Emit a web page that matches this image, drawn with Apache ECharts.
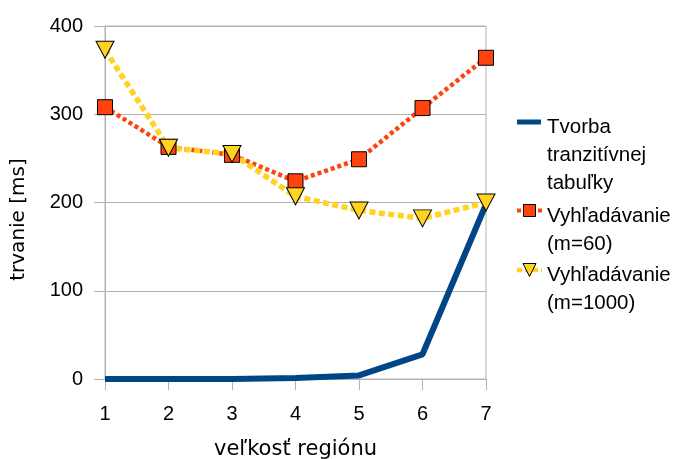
<!DOCTYPE html>
<html>
<head>
<meta charset="utf-8">
<script src="https://cdn.jsdelivr.net/npm/echarts@6/dist/echarts.min.js"></script>
<style>
  html, body { margin: 0; padding: 0; background: #fff; }
  #chart { width: 683px; height: 459px; }
</style>
</head>
<body>
<div id="chart"></div>
<script>
// Region sizes on the x axis
const categories = ['1', '2', '3', '4', '5', '6', '7'];
// Duration in ms
const tvorbaTabulky = [0, 0, 0, 1, 4, 28, 198];
const vyhladavanieM60 = [308, 263, 254, 224, 249, 307, 364];
const vyhladavanieM1000 = [373, 262, 255, 207, 191, 182, 200];
const yTicks = [0, 100, 200, 300, 400];

const seriesNames = [
  'Tvorba\ntranzitívnej\ntabuľky',
  'Vyhľadávanie\n(m=60)',
  'Vyhľadávanie\n(m=1000)'
];

const FONT = '"Liberation Sans", Arial, sans-serif';
const NAME_FONT = '"DejaVu Sans", sans-serif';
const BLUE = '#004586', RED = '#ff420e', YELLOW = '#ffd320';
const LH = 28;

// Legend, drawn as graphic elements so each icon sits on the first text line
const LX = 517;
function legendText(str, top) {
  return {
    type: 'text', left: 547, top: top,
    style: { text: str, font: '20.5px ' + FONT, fill: '#000', lineHeight: LH }
  };
}
const legendGraphic = [
  { type: 'rect', shape: { x: LX, y: 119.5, width: 24, height: 5 }, style: { fill: BLUE } },
  legendText(seriesNames[0], 113),
  { type: 'line', shape: { x1: LX, y1: 210.5, x2: LX + 25, y2: 210.5 },
    style: { stroke: RED, lineWidth: 4, lineDash: [4, 3] } },
  { type: 'rect', shape: { x: LX + 6.5, y: 204.5, width: 12, height: 12 },
    style: { fill: RED, stroke: '#000', lineWidth: 1 } },
  legendText(seriesNames[1], 202),
  { type: 'line', shape: { x1: LX, y1: 270, x2: LX + 25, y2: 270 },
    style: { stroke: YELLOW, lineWidth: 4.5, lineDash: [5, 3] } },
  { type: 'polygon', shape: { points: [[LX + 6, 263.5], [LX + 19, 263.5], [LX + 12.5, 276.5]] },
    style: { fill: YELLOW, stroke: '#000', lineWidth: 1 } },
  legendText(seriesNames[2], 261)
];

const chart = echarts.init(document.getElementById('chart'));
chart.setOption({
  animation: false,
  backgroundColor: '#fff',
  grid: {
    left: 105, right: 197, top: 26, bottom: 80,
    containLabel: false, outerBoundsMode: 'none',
    show: true, borderColor: '#b3b3b3', borderWidth: 1
  },
  xAxis: {
    type: 'category',
    data: categories,
    boundaryGap: false,
    name: 'veľkosť regiónu',
    nameLocation: 'middle',
    nameGap: 60,
    nameTextStyle: { fontFamily: NAME_FONT, fontSize: 21, color: '#000' },
    axisLine: { lineStyle: { color: '#b3b3b3', width: 1 } },
    axisTick: { show: true, length: 11, alignWithLabel: true, lineStyle: { color: '#b3b3b3' } },
    axisLabel: { fontFamily: FONT, fontSize: 20, color: '#000', margin: 25 },
    splitLine: { show: false }
  },
  yAxis: {
    type: 'value',
    min: yTicks[0],
    max: yTicks[yTicks.length - 1],
    interval: 100,
    name: 'trvanie [ms]',
    nameLocation: 'middle',
    nameGap: 76,
    nameTextStyle: { fontFamily: NAME_FONT, fontSize: 20, color: '#000', padding: [0, 34, 0, 0] },
    axisLine: { show: true, lineStyle: { color: '#b3b3b3', width: 1 } },
    axisTick: { show: true, length: 11, lineStyle: { color: '#b3b3b3' } },
    axisLabel: { fontFamily: FONT, fontSize: 20, color: '#000', margin: 22 },
    splitLine: { show: true, lineStyle: { color: '#b3b3b3', width: 1 } }
  },
  graphic: legendGraphic,
  series: [
    {
      name: seriesNames[0],
      type: 'line',
      data: tvorbaTabulky,
      symbol: 'none',
      lineStyle: { color: BLUE, width: 6 },
      itemStyle: { color: BLUE }
    },
    {
      name: seriesNames[1],
      type: 'line',
      data: vyhladavanieM60,
      symbol: 'rect',
      symbolSize: 15,
      lineStyle: { color: RED, width: 4.5, type: [4, 3] },
      itemStyle: { color: RED, borderColor: '#000', borderWidth: 1 }
    },
    {
      name: seriesNames[2],
      type: 'line',
      data: vyhladavanieM1000,
      symbol: 'triangle',
      symbolRotate: 180,
      symbolSize: [18, 17],
      lineStyle: { color: YELLOW, width: 5.5, type: [6, 3.5] },
      itemStyle: { color: YELLOW, borderColor: '#000', borderWidth: 1 }
    }
  ]
});
</script>
</body>
</html>
